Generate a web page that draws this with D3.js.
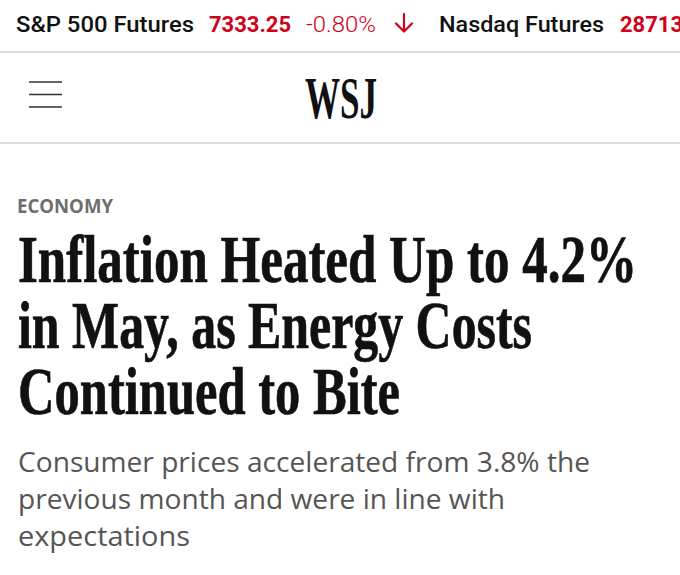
<!DOCTYPE html>
<html>
<head>
<meta charset="utf-8">
<script src="https://cdn.jsdelivr.net/npm/d3@7/dist/d3.min.js"></script>
<style>
  html, body { margin: 0; padding: 0; background: #fff; }
  svg { display: block; }
</style>
</head>
<body>
<svg id="page" width="680" height="575"></svg>
<script>
// ---- content ----
const tickerNames   = ["S&P 500 Futures", "Nasdaq Futures"];
const tickerPrices  = ["7333.25", "28713"];
const tickerChanges = ["-0.80%"];
const sectionLabel  = ["ECONOMY"];
const logoText      = ["WSJ"];
const headlineLines = ["Inflation Heated Up to 4.2%", "in May, as Energy Costs", "Continued to Bite"];
const deckLines     = ["Consumer prices accelerated from 3.8% the", "previous month and were in line with", "expectations"];

const W = 680, H = 575;
const svg = d3.select("#page");
const red = "#d0021b";

// ---- ticker bar ----
const ticker = svg.append("g").attr("class", "ticker");
const tickerSpec = [
  {t: tickerNames[0],   x: 16,  w: 178, fill: "#111", weight: 500},
  {t: tickerPrices[0],  x: 209, w: 82,  fill: red,    weight: 700},
  {t: tickerChanges[0], x: 306, w: 70,  fill: red,    weight: 300},
  {t: tickerNames[1],   x: 439, w: 165, fill: "#111", weight: 500},
  {t: tickerPrices[1],  x: 620, w: 63,  fill: red,    weight: 700}
];
ticker.selectAll("text").data(tickerSpec).join("text")
  .attr("x", d => d.x).attr("y", 32)
  .attr("font-family", "Roboto")
  .attr("font-weight", d => d.weight)
  .attr("font-size", 22.5)
  .attr("fill", d => d.fill)
  .attr("textLength", d => d.w)
  .attr("lengthAdjust", "spacingAndGlyphs")
  .text(d => d.t);

// down arrow
ticker.append("path")
  .attr("d", "M404,14 L404,31 M396,23.5 L404,31.5 L412,23.5")
  .attr("fill", "none").attr("stroke", red)
  .attr("stroke-width", 2.2).attr("stroke-linecap", "round").attr("stroke-linejoin", "round");

// separators
svg.selectAll("line.sep").data([52, 143]).join("line")
  .attr("class", "sep")
  .attr("x1", 0).attr("x2", W)
  .attr("y1", d => d).attr("y2", d => d)
  .attr("stroke", "#dcdcdc").attr("stroke-width", 2);

// hamburger icon
svg.selectAll("line.burger").data([82, 94.5, 107]).join("line")
  .attr("class", "burger")
  .attr("x1", 29).attr("x2", 62)
  .attr("y1", d => d).attr("y2", d => d)
  .attr("stroke", "#333").attr("stroke-width", 1.6);

// logo
svg.selectAll("text.logo").data(logoText).join("text")
  .attr("class", "logo")
  .attr("x", 305).attr("y", 118)
  .attr("font-family", "Liberation Serif")
  .attr("font-weight", 700)
  .attr("font-size", 60)
  .attr("fill", "#111")
  .attr("textLength", 72)
  .attr("lengthAdjust", "spacingAndGlyphs")
  .text(d => d);

// section label
svg.selectAll("text.section").data(sectionLabel).join("text")
  .attr("class", "section")
  .attr("x", 17).attr("y", 213)
  .attr("font-family", "Open Sans")
  .attr("font-weight", 700)
  .attr("font-size", 20)
  .attr("fill", "#6e6e6e")
  .attr("textLength", 96)
  .attr("lengthAdjust", "spacingAndGlyphs")
  .text(d => d);

// headline
const headWidths = [619, 514, 382];
const headY = d3.scaleLinear().domain([0, 1]).range([282, 348]);
svg.selectAll("text.head").data(headlineLines).join("text")
  .attr("class", "head")
  .attr("x", 18).attr("y", (d, i) => headY(i))
  .attr("font-family", "Liberation Serif")
  .attr("font-weight", 700)
  .attr("font-size", 68)
  .attr("fill", "#111")
  .attr("stroke", "#111")
  .attr("stroke-width", 0.7)
  .attr("textLength", (d, i) => headWidths[i])
  .attr("lengthAdjust", "spacingAndGlyphs")
  .text(d => d);

// deck
const deckWidths = [572, 487, 172];
const deckY = d3.scaleLinear().domain([0, 1]).range([472, 509]);
svg.selectAll("text.deck").data(deckLines).join("text")
  .attr("class", "deck")
  .attr("x", 18).attr("y", (d, i) => deckY(i))
  .attr("font-family", "Open Sans")
  .attr("font-weight", 400)
  .attr("font-size", 28)
  .attr("fill", "#555")
  .attr("textLength", (d, i) => deckWidths[i])
  .attr("lengthAdjust", "spacingAndGlyphs")
  .text(d => d);
</script>
</body>
</html>
